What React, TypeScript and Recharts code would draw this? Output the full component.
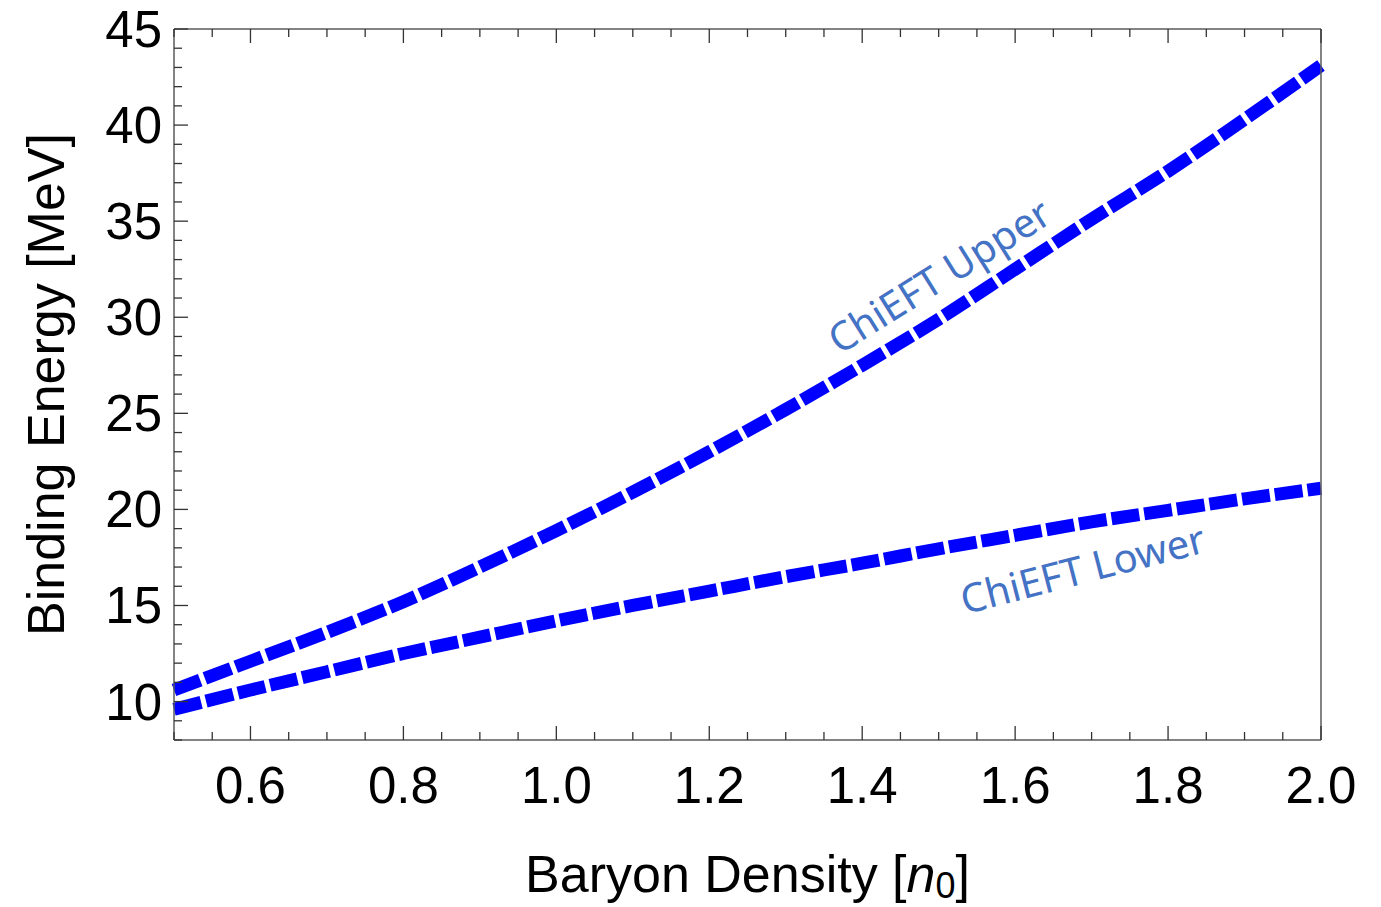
import React from "react";
import { LineChart, Line, XAxis, YAxis, ReferenceDot } from "recharts";

// Binding energy vs baryon density, ChiEFT upper / lower bands
const density = [0.5, 0.6, 0.7, 0.8, 0.9, 1.0, 1.1, 1.2, 1.3, 1.4, 1.5, 1.6, 1.7, 1.8, 1.9, 2.0];
const upper = [10.6, 12.1, 13.6, 15.2, 17.0, 18.9, 20.9, 23.0, 25.2, 27.5, 29.9, 32.5, 35.1, 37.6, 40.3, 43.1];
const lower = [9.6, 10.6, 11.55, 12.5, 13.35, 14.2, 15.0, 15.75, 16.5, 17.2, 17.95, 18.65, 19.35, 19.95, 20.55, 21.1];

const xTicks = [
  0.5, 0.55, 0.6, 0.65, 0.7, 0.75, 0.8, 0.85, 0.9, 0.95, 1.0, 1.05, 1.1, 1.15, 1.2, 1.25,
  1.3, 1.35, 1.4, 1.45, 1.5, 1.55, 1.6, 1.65, 1.7, 1.75, 1.8, 1.85, 1.9, 1.95, 2.0,
];
const xLabels = [0.6, 0.8, 1.0, 1.2, 1.4, 1.6, 1.8, 2.0];
const yTicks = [
  8, 9, 10, 11, 12, 13, 14, 15, 16, 17, 18, 19, 20, 21, 22, 23, 24, 25, 26, 27, 28, 29, 30,
  31, 32, 33, 34, 35, 36, 37, 38, 39, 40, 41, 42, 43, 44, 45,
];
const yLabels = [10, 15, 20, 25, 30, 35, 40, 45];

const data = density.map((x, i) => ({ x, upper: upper[i], lower: lower[i] }));

const FONT = '"Liberation Sans", Arial, sans-serif';
const FRAME = "#5a5a5a";
const BLUE = "#0000ff";
const NOTE = "#4472c4";

const isMajorX = (v: number) => xLabels.some((m) => Math.abs(m - v) < 1e-6);
const isMajorY = (v: number) => yLabels.includes(v);

function XTick({ x, y, payload, side }: any) {
  const major = isMajorX(payload.value);
  const len = major ? 14 : 8;
  const dir = side === "bottom" ? -1 : 1;
  return (
    <g>
      <line x1={x} x2={x} y1={y} y2={y + dir * len} stroke="#333" strokeWidth={1.3} />
      {side === "bottom" && major && (
        <text x={x} y={y + 63} textAnchor="middle" fontSize={51} fontFamily={FONT} fill="#000">
          {payload.value.toFixed(1)}
        </text>
      )}
    </g>
  );
}

function YTick({ x, y, payload, side }: any) {
  const major = isMajorY(payload.value);
  const len = major ? 14 : 8;
  const dir = side === "left" ? 1 : -1;
  return (
    <g>
      <line x1={x} x2={x + dir * len} y1={y} y2={y} stroke="#333" strokeWidth={1.3} />
      {side === "left" && major && (
        <text x={x - 12} y={y + 18} textAnchor="end" fontSize={51} fontFamily={FONT} fill="#000">
          {payload.value}
        </text>
      )}
    </g>
  );
}

function Note({ viewBox, text, angle }: any) {
  const cx = viewBox.x + viewBox.width / 2;
  const cy = viewBox.y + viewBox.height / 2;
  return (
    <text
      x={cx}
      y={cy}
      textAnchor="middle"
      dominantBaseline="central"
      fontSize={40}
      fontFamily='"Noto Sans", "Open Sans", sans-serif'
      fill={NOTE}
      transform={`rotate(${angle} ${cx} ${cy})`}
    >
      {text}
    </text>
  );
}

export default function App() {
  return (
    <div style={{ position: "absolute", left: 0, top: 0, background: "#fff" }}>
      <LineChart width={1381} height={907} data={data} margin={{ top: 0, right: 0, bottom: 0, left: 0 }}>
        <XAxis
          dataKey="x"
          type="number"
          domain={[0.5, 2.0]}
          ticks={xTicks}
          interval={0}
          height={167}
          tickSize={0}
          tickMargin={0}
          tickLine={false}
          axisLine={{ stroke: FRAME, strokeWidth: 1.5 }}
          tick={(p: any) => <XTick {...p} side="bottom" />}
          label={({ viewBox }: any) => (
            <text
              x={viewBox.x + viewBox.width / 2}
              y={viewBox.y + 152}
              textAnchor="middle"
              fontSize={52}
              fontFamily={FONT}
              fill="#000"
            >
              Baryon Density [<tspan fontStyle="italic">n</tspan>
              <tspan fontSize={36} dy={6}>0</tspan>
              <tspan dy={-6}>]</tspan>
            </text>
          )}
        />
        <XAxis
          xAxisId="top"
          orientation="top"
          dataKey="x"
          type="number"
          domain={[0.5, 2.0]}
          ticks={xTicks}
          interval={0}
          height={29}
          tickSize={0}
          tickMargin={0}
          tickLine={false}
          axisLine={{ stroke: FRAME, strokeWidth: 1.5 }}
          tick={(p: any) => <XTick {...p} side="top" />}
        />
        <YAxis
          type="number"
          domain={[8, 45]}
          ticks={yTicks}
          interval={0}
          width={174}
          tickSize={0}
          tickMargin={0}
          tickLine={false}
          axisLine={{ stroke: FRAME, strokeWidth: 1.5 }}
          tick={(p: any) => <YTick {...p} side="left" />}
          label={({ viewBox }: any) => {
            const cx = 46;
            const cy = viewBox.y + viewBox.height / 2;
            return (
              <text
                x={cx}
                y={cy}
                textAnchor="middle"
                dominantBaseline="central"
                fontSize={52}
                fontFamily={FONT}
                fill="#000"
                transform={`rotate(-90 ${cx} ${cy})`}
              >
                Binding Energy [MeV]
              </text>
            );
          }}
        />
        <YAxis
          yAxisId="right"
          orientation="right"
          type="number"
          domain={[8, 45]}
          ticks={yTicks}
          interval={0}
          width={60}
          tickSize={0}
          tickMargin={0}
          tickLine={false}
          axisLine={{ stroke: FRAME, strokeWidth: 1.5 }}
          tick={(p: any) => <YTick {...p} side="right" />}
        />
        <Line
          type="monotone"
          dataKey="upper"
          stroke={BLUE}
          strokeWidth={13}
          strokeDasharray="28 5"
          dot={false}
          isAnimationActive={false}
        />
        <Line
          type="monotone"
          dataKey="lower"
          stroke={BLUE}
          strokeWidth={13}
          strokeDasharray="28 5"
          dot={false}
          isAnimationActive={false}
        />
        <ReferenceDot
          x={1.5}
          y={32.2}
          r={0}
          fill="none"
          stroke="none"
          label={(p: any) => <Note {...p} text="ChiEFT Upper" angle={-32} />}
        />
        <ReferenceDot
          x={1.688}
          y={16.95}
          r={0}
          fill="none"
          stroke="none"
          label={(p: any) => <Note {...p} text="ChiEFT Lower" angle={-14.5} />}
        />
      </LineChart>
    </div>
  );
}
